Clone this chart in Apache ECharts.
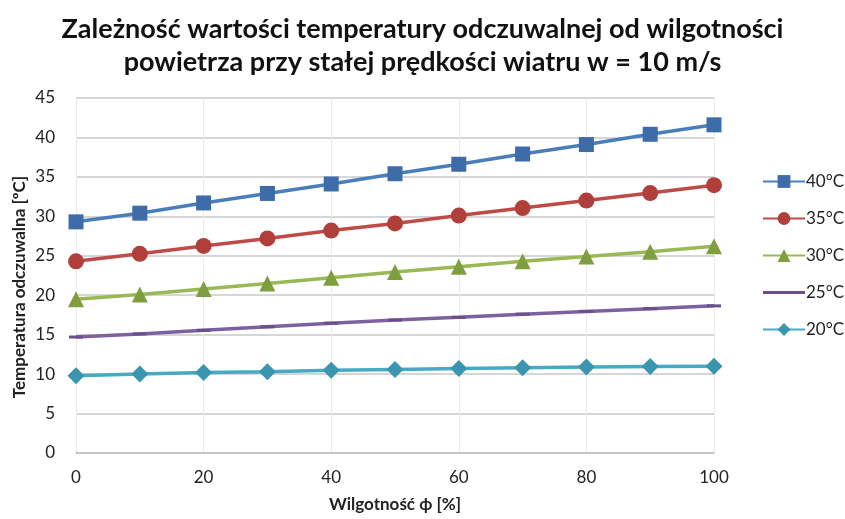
<!DOCTYPE html>
<html><head><meta charset="utf-8">
<script src="https://cdn.jsdelivr.net/npm/echarts@6/dist/echarts.min.js"></script>
<style>html,body{margin:0;padding:0;background:#fff}#c{width:845px;height:519px}</style>
</head><body><div id="c"></div>
<script>
const humidity = [0,10,20,30,40,50,60,70,80,90,100];
const seriesNames = ['40°C','35°C','30°C','25°C','20°C'];
const t40 = [29.3,30.4,31.7,32.9,34.1,35.4,36.6,37.9,39.1,40.4,41.6];
const t35 = [24.3,25.25,26.25,27.2,28.2,29.1,30.1,31.05,32.0,32.95,33.95];
const t30 = [19.5,20.1,20.8,21.5,22.2,22.95,23.6,24.3,24.9,25.5,26.2];
const t25 = [14.7,15.1,15.55,16.0,16.45,16.85,17.2,17.6,17.95,18.3,18.65];
const t20 = [9.8,10.0,10.2,10.3,10.5,10.6,10.7,10.8,10.9,10.95,11.0];
const xTicks = [0,20,40,60,80,100];
const yTicks = [0,5,10,15,20,25,30,35,40,45];

const font = 'Lato, "Open Sans", sans-serif';
const styles = [
  {color:'#4A7EBB', mcolor:'#3D6CA9', symbol:'rect', size:15},
  {color:'#BE4B48', mcolor:'#B03F3C', symbol:'circle', size:16},
  {color:'#98B954', mcolor:'#7E9E40', symbol:'triangle', size:16},
  {color:'#7D60A0', mcolor:'#6A4F8C', symbol:'rect', size:[14,3]},
  {color:'#46AAC5', mcolor:'#3A95AE', symbol:'diamond', size:17}
];
const data = [t40,t35,t30,t25,t20];
const chart = echarts.init(document.getElementById('c'), null, {renderer:'canvas'});
chart.setOption({
  animation:false,
  backgroundColor:'#fff',
  title:{
    text:'Zależność wartości temperatury odczuwalnej od wilgotności\npowietrza przy stałej prędkości wiatru w = 10 m/s',
    left:'center', top:8,
    textStyle:{fontFamily:font, fontWeight:'bold', fontSize:27, lineHeight:33, color:'#111'}
  },
  legend:{
    orient:'vertical', left:757, top:168, itemGap:20, itemWidth:42, itemHeight:16,
    textStyle:{fontFamily:font, fontSize:17, color:'#222', padding:[0,0,0,-4]},
    data:seriesNames.map((n,i)=> i===3 ? {name:n, icon:'path://M0,0h0.05v0.05h-0.05zM0,6.4h42v3.2h-42zM0,15.95h0.05v0.05h-0.05z'} : {name:n})
  },
  grid:{left:76, right:131, top:98, bottom:66, containLabel:false},
  xAxis:{
    type:'value', min:0, max:100, interval:20,
    name:'Wilgotność ϕ [%]', nameLocation:'middle', nameGap:43,
    nameTextStyle:{fontFamily:font, fontWeight:'bold', fontSize:17, color:'#222'},
    axisLine:{show:true, lineStyle:{color:'#BFBFBF', width:1.5}},
    axisTick:{show:false},
    axisLabel:{fontFamily:font, fontSize:17, color:'#222', margin:16},
    splitLine:{show:true, lineStyle:{color:'#EBEBEB', width:1}}
  },
  yAxis:{
    type:'value', min:0, max:45, interval:5,
    axisLine:{show:false}, axisTick:{show:false},
    axisLabel:{fontFamily:font, fontSize:17, color:'#222', margin:21},
    splitLine:{show:true, lineStyle:{color:'#C8C8C8', width:1.5}}
  },
  graphic:[{
    type:'text', x:20, y:287, rotation:Math.PI/2,
    style:{text:'Temperatura odczuwalna [ºC]', fontFamily:font, fontWeight:'bold', fontSize:17,
      fill:'#222', align:'center', verticalAlign:'middle'}
  }],
  series: seriesNames.map((n,i)=>({
    name:n, type:'line',
    data: humidity.map((x,j)=>[x,data[i][j]]),
    symbol:styles[i].symbol, symbolSize:styles[i].size, showAllSymbol:true,
    lineStyle:{color:styles[i].color, width:3.5},
    itemStyle:{color:styles[i].mcolor, borderWidth:0},
    color:styles[i].color,
    z: 10-i
  }))
});
</script></body></html>
